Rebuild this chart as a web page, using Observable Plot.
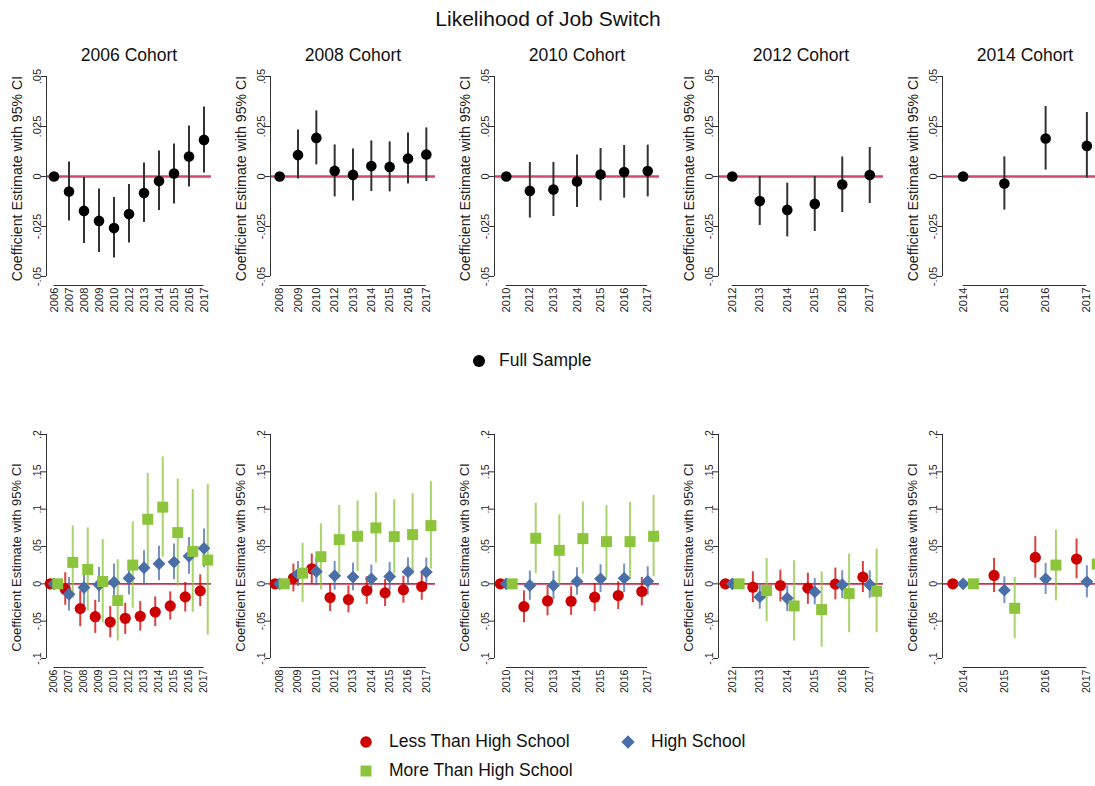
<!DOCTYPE html>
<html><head><meta charset="utf-8">
<script src="https://cdn.jsdelivr.net/npm/d3@7"></script>
<script src="https://cdn.jsdelivr.net/npm/@observablehq/plot@0.6"></script>
<style>
body{margin:0;background:#fff;overflow:hidden;font-family:"Liberation Sans",Arial,sans-serif;}
#root{position:relative;width:1095px;height:786px;overflow:hidden;background:#fff;}
.lbl{position:absolute;white-space:nowrap;line-height:1;color:#111;transform:translate(-50%,-50%);}
.leg{position:absolute;white-space:nowrap;line-height:1;color:#111;transform:translate(0,-50%);font-size:17.5px;}
.sw{position:absolute;transform:translate(-50%,-50%);}
.panel{position:absolute;width:224px;}
.panel svg{overflow:visible;max-width:none !important;}
</style></head><body><div id="root"></div>
<script>
// ---------- data ----------
const chartTitle = "Likelihood of Job Switch";
const cohortTitles = ["2006 Cohort","2008 Cohort","2010 Cohort","2012 Cohort","2014 Cohort"];
const yLabel = "Coefficient Estimate with 95% CI";
const fullName = "Full Sample";
const seriesNames = ["Less Than High School","High School","More Than High School"];
const seriesColors = ["#cc0000","#4a6fa8","#8cc43c"];
const seriesSymbols = ["circle","diamond2","square"];

const years06 = ["2006","2007","2008","2009","2010","2012","2013","2014","2015","2016","2017"];
const years08 = ["2008","2009","2010","2012","2013","2014","2015","2016","2017"];
const years10 = ["2010","2012","2013","2014","2015","2016","2017"];
const years12 = ["2012","2013","2014","2015","2016","2017"];
const years14 = ["2014","2015","2016","2017"];

const topTicks = [-0.05,-0.025,0,0.025,0.05];
const bottomTicks = [-0.1,-0.05,0,0.05,0.1,0.15,0.2];

// [estimate, lower 95%, upper 95%]
const full06 = [[0,0,0],[-0.0075,-0.0223,0.0073],[-0.0172,-0.0335,-0.0005],[-0.0222,-0.038,-0.0063],[-0.0258,-0.0408,-0.0105],[-0.0188,-0.0332,-0.004],[-0.0083,-0.023,0.0067],[-0.0023,-0.017,0.0128],[0.0015,-0.0138,0.0163],[0.010,-0.0053,0.0252],[0.0183,0.0018,0.0348]];
const full08 = [[0,0,0],[0.0107,-0.0013,0.0232],[0.0193,0.0058,0.0328],[0.0028,-0.0102,0.0158],[0.0008,-0.0122,0.0137],[0.0052,-0.0075,0.0178],[0.0048,-0.0077,0.0173],[0.009,-0.0038,0.0218],[0.011,-0.0025,0.0243]];
const full10 = [[0,0,0],[-0.0072,-0.0208,0.007],[-0.0065,-0.02,0.007],[-0.0025,-0.0155,0.0107],[0.001,-0.0122,0.014],[0.0022,-0.0108,0.0155],[0.0027,-0.0102,0.0157]];
const full12 = [[0,0,0],[-0.0123,-0.0245,0],[-0.0167,-0.0302,-0.0033],[-0.0137,-0.0275,0],[-0.004,-0.018,0.0098],[0.0007,-0.0135,0.0145]];
const full14 = [[0,0,0],[-0.0035,-0.0168,0.0098],[0.019,0.0032,0.035],[0.0153,-0.0008,0.032]];

const lths06 = [[0,0,0],[-0.0072,-0.0287,0.0148],[-0.0332,-0.0574,-0.0094],[-0.044,-0.0664,-0.022],[-0.0511,-0.0722,-0.0305],[-0.0462,-0.0677,-0.026],[-0.0435,-0.0632,-0.0238],[-0.0377,-0.0574,-0.0175],[-0.0296,-0.0484,-0.0108],[-0.0175,-0.0377,0.0018],[-0.0094,-0.0305,0.0121]];
const hs06 = [[0,0,0],[-0.0139,-0.0363,0.0085],[-0.0049,-0.0296,0.0197],[-0.0013,-0.0251,0.022],[0.0022,-0.0215,0.0265],[0.0076,-0.0148,0.031],[0.0215,-0.0018,0.0444],[0.0269,0.004,0.0502],[0.0291,0.0054,0.0534],[0.0368,0.013,0.0619],[0.0475,0.0215,0.0735]];
const mths06 = [[0,0,0],[0.0287,-0.0193,0.0776],[0.0193,-0.0363,0.0749],[0.0031,-0.052,0.0592],[-0.0224,-0.0767,0.0323],[0.0251,-0.0327,0.083],[0.0865,0.0238,0.148],[0.1027,0.0359,0.17],[0.0686,-0.0036,0.1404],[0.0435,-0.0381,0.1265],[0.0318,-0.0686,0.1332]];

const lths08 = [[0,0,0],[0.0076,-0.0108,0.0265],[0.0202,0,0.0399],[-0.0184,-0.0372,0],[-0.0211,-0.039,-0.0027],[-0.009,-0.0274,0.0094],[-0.0121,-0.0305,0.0058],[-0.0081,-0.026,0.0103],[-0.0036,-0.022,0.0152]];
const hs08 = [[0,0,0],[0.013,-0.004,0.03],[0.0166,-0.0027,0.0354],[0.0108,-0.0085,0.03],[0.009,-0.0094,0.0274],[0.0067,-0.0117,0.0251],[0.0099,-0.0085,0.0287],[0.0161,-0.0022,0.0345],[0.0157,-0.0027,0.0345]];
const mths08 = [[0,0,0],[0.0143,-0.0251,0.0543],[0.0363,-0.0081,0.0803],[0.0592,0.0139,0.1049],[0.0637,0.0166,0.1108],[0.0749,0.0278,0.122],[0.0632,0.0139,0.1126],[0.0659,0.0121,0.1206],[0.078,0.0197,0.1368]];

const lths10 = [[0,0,0],[-0.0305,-0.052,-0.0094],[-0.0229,-0.043,-0.0027],[-0.0233,-0.0422,-0.004],[-0.0179,-0.0372,0.0004],[-0.0157,-0.0345,0.0027],[-0.0103,-0.0296,0.0085]];
const hs10 = [[0,0,0],[-0.0022,-0.022,0.017],[-0.0022,-0.0215,0.0166],[0.0031,-0.0152,0.0215],[0.0067,-0.0117,0.0256],[0.0076,-0.0117,0.0265],[0.0036,-0.0152,0.0229]];
const mths10 = [[0,0,0],[0.061,0.0139,0.1081],[0.0448,-0.0027,0.0924],[0.0605,0.013,0.1094],[0.0565,0.0076,0.1049],[0.0565,0.0063,0.109],[0.0637,0.0094,0.1184]];

const lths12 = [[0,0,0],[-0.0045,-0.0251,0.0161],[-0.0022,-0.0242,0.0184],[-0.0058,-0.0274,0.0143],[-0.0004,-0.0215,0.0211],[0.009,-0.0117,0.03]];
const hs12 = [[0,0,0],[-0.0175,-0.0341,0.0004],[-0.0193,-0.0372,-0.0027],[-0.0108,-0.0283,0.0072],[-0.0013,-0.0197,0.0175],[-0.0013,-0.0193,0.0175]];
const mths12 = [[0,0,0],[-0.009,-0.0507,0.0341],[-0.0296,-0.0767,0.0309],[-0.0345,-0.0848,0.0161],[-0.013,-0.0655,0.0399],[-0.0099,-0.0655,0.0466]];

const lths14 = [[0,0,0],[0.0112,-0.0117,0.0341],[0.0354,0.0076,0.0632],[0.0332,0.0067,0.0601]];
const hs14 = [[0,0,0],[-0.0085,-0.0265,0.0094],[0.0067,-0.0143,0.0274],[0.0027,-0.0188,0.0242]];
const mths14 = [[0,0,0],[-0.0327,-0.0731,0.0085],[0.0251,-0.0229,0.0722],[0.0265,-0.0251,0.078]];

// ---------- layout ----------
const root = document.getElementById("root");
const axisColor = "#333", textColor = "#222";
const FONT = '"Liberation Sans", Arial, sans-serif';
const PW = 224, ML = 46, MR = 13;
const fmt = v => v === 0 ? "0" : String(v).replace("0.", ".");

function makePanel({years, series, yDomain, yTicks, marginTop, height, tickFont, labelFont, labelDy, zeroColor, zeroWidth, ruleStroke, ruleOpacity, title}) {
  const n = years.length;
  const rowsOf = s => s.values.map(([est, lo, hi], i) => ({year: years[i], x: i + s.offset, est, lo, hi}));
  const marks = [
    Plot.ruleY([0], {stroke: zeroColor, strokeWidth: zeroWidth}),
    Plot.ruleX([-0.5], {stroke: axisColor, strokeWidth: 1}),
    Plot.axisY(yTicks, {tickSize: 5, tickPadding: 1, tickRotate: -90, tickFormat: fmt, fontSize: tickFont, label: null, stroke: axisColor, fill: textColor}),
    Plot.axisX(d3.range(n), {tickSize: 0, tickPadding: 11, tickRotate: -90, tickFormat: i => years[i], fontSize: tickFont, label: null, fill: textColor}),
    Plot.ruleY([yDomain[0]], {x1: 0, x2: n - 1, dy: 9, stroke: axisColor, strokeWidth: 1}),
  ];
  series.forEach(s => marks.push(Plot.ruleX(rowsOf(s), {x: "x", y1: "lo", y2: "hi", stroke: ruleStroke || s.color, strokeWidth: 2, strokeOpacity: ruleOpacity})));
  series.forEach(s => marks.push(Plot.dot(rowsOf(s), {x: "x", y: "est", fill: s.color, stroke: "none", symbol: s.symbol, r: s.r})));
  marks.push(Plot.text([yLabel], {frameAnchor: "left", textAnchor: "middle", lineAnchor: "middle", rotate: -90, dx: -29.5, dy: labelDy, fontSize: labelFont, fill: textColor}));
  if (title) marks.push(Plot.text([title], {frameAnchor: "top", textAnchor: "middle", lineAnchor: "middle", dy: -21, fontSize: 17.5, fill: "#111"}));
  return Plot.plot({
    width: PW, height, marginLeft: ML, marginRight: MR, marginTop, marginBottom: 45,
    style: {fontFamily: FONT, color: textColor, background: "transparent", overflow: "visible", maxWidth: "none"},
    x: {type: "linear", domain: [-0.5, n - 0.5], axis: null},
    y: {domain: yDomain, axis: null},
    marks
  });
}

function place(el, left, top) {
  const d = document.createElement("div");
  d.className = "panel";
  d.style.left = left + "px";
  d.style.top = top + "px";
  d.appendChild(el);
  root.appendChild(d);
}

const yearsAll = [years06, years08, years10, years12, years14];
const fullAll = [full06, full08, full10, full12, full14];
const lthsAll = [lths06, lths08, lths10, lths12, lths14];
const hsAll = [hs06, hs08, hs10, hs12, hs14];
const mthsAll = [mths06, mths08, mths10, mths12, mths14];

yearsAll.forEach((years, k) => {
  place(makePanel({
    years, yDomain: [-0.05, 0.05], yTicks: topTicks, marginTop: 36, height: 281,
    tickFont: 11.2, labelFont: 14.2, labelDy: 2, zeroColor: "#d2486a", zeroWidth: 2.5,
    ruleStroke: "#333", ruleOpacity: 1, title: cohortTitles[k],
    series: [{values: fullAll[k], offset: 0, color: "#000", symbol: "circle", r: 5.3}]
  }), PW * k, 40);

  const grp = [lthsAll[k], hsAll[k], mthsAll[k]];
  place(makePanel({
    years, yDomain: [-0.1, 0.2], yTicks: bottomTicks, marginTop: 14, height: 283,
    tickFont: 10.6, labelFont: 13, labelDy: 11, zeroColor: "#c8304c", zeroWidth: 1.6,
    ruleOpacity: 0.75, title: null,
    series: grp.map((values, j) => ({values, offset: (j - 1) * 0.25, color: seriesColors[j], symbol: seriesSymbols[j], r: [5.6, 5.8, 6.2][j]}))
  }), PW * k, 420);
});

// ---------- titles & legends ----------
function label(text, x, y, size, cls = "lbl") {
  const d = document.createElement("div");
  d.className = cls;
  d.textContent = text;
  d.style.left = x + "px";
  d.style.top = y + "px";
  d.style.fontSize = size + "px";
  root.appendChild(d);
}
label(chartTitle, 548, 18, 21);

function swatch(symbol, color, x, y, r) {
  const s = d3.create("svg").attr("class", "sw").attr("width", 16).attr("height", 16)
    .style("left", x + "px").style("top", y + "px");
  s.append("path").attr("transform", "translate(8,8)")
    .attr("d", d3.symbol(symbol === "circle" ? d3.symbolCircle : symbol === "square" ? d3.symbolSquare : d3.symbolDiamond2, r * r * Math.PI)())
    .attr("fill", color);
  root.appendChild(s.node());
}
swatch("circle", "#000", 479, 361, 6);
label(fullName, 499, 361, 17.5, "leg");

swatch(seriesSymbols[0], seriesColors[0], 366, 742, 5.8);
label(seriesNames[0], 389, 742, 17.5, "leg");
swatch(seriesSymbols[1], seriesColors[1], 628, 742, 6);
label(seriesNames[1], 651, 742, 17.5, "leg");
swatch(seriesSymbols[2], seriesColors[2], 366, 771, 6.2);
label(seriesNames[2], 389, 771, 17.5, "leg");
</script></body></html>
